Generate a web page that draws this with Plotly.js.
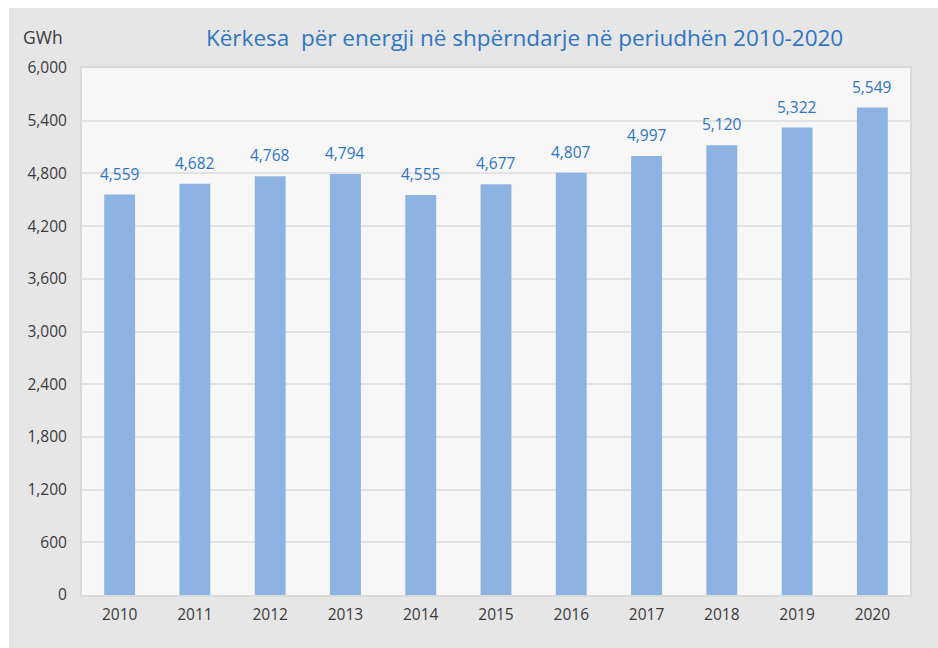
<!DOCTYPE html>
<html>
<head>
<meta charset="utf-8">
<script src="https://cdn.plot.ly/plotly-3.0.1.min.js"></script>
<style>
html,body{margin:0;padding:0;background:#ffffff;}
#chart{position:absolute;left:9px;top:8px;width:929px;height:640px;}
</style>
</head>
<body>
<div id="chart"></div>
<script>
const years = ["2010","2011","2012","2013","2014","2015","2016","2017","2018","2019","2020"];
const demand = [4559, 4682, 4768, 4794, 4555, 4677, 4807, 4997, 5120, 5322, 5549];
const yTicks = [0, 600, 1200, 1800, 2400, 3000, 3600, 4200, 4800, 5400, 6000];

const labelColor = "#2e75c4";
const fontFam = "Open Sans, sans-serif";
const trace = {
  type: "bar",
  x: years,
  y: demand,
  marker: {color: "#8db3e2"},
  hoverinfo: "x+y"
};

// category index positions on the category axis
const valueLabels = years.map((yr, i) => ({
  x: i, y: demand[i], xref: "x", yref: "y",
  text: demand[i].toLocaleString("en-US"),
  showarrow: false, xanchor: "center", yanchor: "middle", yshift: 21,
  font: {family: fontFam, size: 15.5, color: labelColor}
}));

const layout = {
  width: 929, height: 640,
  margin: {l: 73, r: 28, t: 60, b: 53},
  paper_bgcolor: "#e6e6e6",
  plot_bgcolor: "#f7f7f7",
  bargap: 0.59,
  showlegend: false,
  title: {
    text: "Kërkesa  për energji në shpërndarje në periudhën 2010-2020",
    font: {family: fontFam, size: 22.5, color: labelColor},
    x: 0.555, xanchor: "center", y: 0.953, yanchor: "middle"
  },
  xaxis: {
    type: "category",
    range: [-0.5, years.length - 0.5],
    tickfont: {family: fontFam, size: 15.5, color: "#3a3a3a"},
    showline: true, linecolor: "#d9d9d9", linewidth: 2, mirror: true,
    ticks: "outside", ticklen: 4, tickcolor: "rgba(0,0,0,0)", showgrid: false
  },
  yaxis: {
    range: [0, 6000],
    tickvals: yTicks,
    tickformat: ",d",
    tickfont: {family: fontFam, size: 15.5, color: "#3a3a3a"},
    gridcolor: "#e2e2e2", gridwidth: 2,
    showline: true, linecolor: "#d9d9d9", linewidth: 2, mirror: true,
    zeroline: false, ticks: "outside", ticklen: 10, tickcolor: "rgba(0,0,0,0)"
  },
  annotations: valueLabels.concat([{
    text: "GWh", xref: "paper", yref: "paper",
    x: -0.047, y: 1.0, xanchor: "center", yanchor: "bottom", yshift: 17,
    showarrow: false,
    font: {family: fontFam, size: 17.5, color: "#3a3a3a"}
  }])
};

Plotly.newPlot("chart", [trace], layout, {displayModeBar: false, staticPlot: true});
</script>
</body>
</html>
